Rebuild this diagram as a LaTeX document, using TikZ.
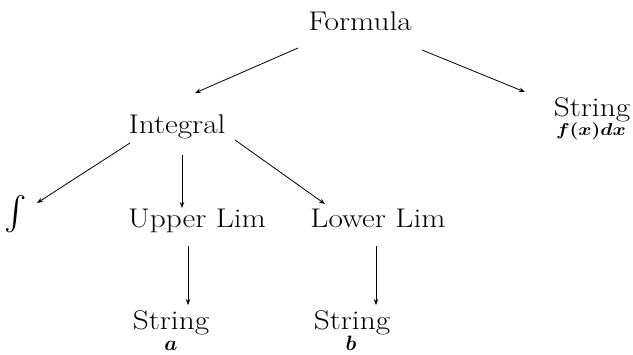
\documentclass[tikz,border=0pt]{standalone}
\usepackage{amsmath}
\usetikzlibrary{arrows.meta}
\newcommand{\wideT}[1]{\scalebox{1.16}[1]{#1}}
\begin{document}
\begin{tikzpicture}[x=1pt,y=-1pt,
  lbl/.style={inner sep=0pt,anchor=base,font=\fontsize{27}{32}\selectfont},
  sub/.style={inner sep=0pt,anchor=base,font=\fontsize{18}{22}\selectfont\boldmath},
  arr/.style={line width=0.8pt,-{Stealth[length=6pt,width=4.5pt]}}]
\useasboundingbox (0,0) rectangle (633,355);
\node[lbl] (formula) at (360,31) {\wideT{Formula}};
\node[lbl] (integral) at (177,134) {\wideT{Integral}};
\node[lbl] (strr) at (592,117) {\wideT{String}};
\node[sub] (fdx) at (591,136) {\wideT{$f(x)dx$}};
\node[lbl,font=\fontsize{27}{32}\selectfont\boldmath] (intsym) at (16,223) {\scalebox{1.35}{$\int$}};
\node[lbl] (upper) at (197,228) {\wideT{Upper Lim}};
\node[lbl] (lower) at (378,228) {\wideT{Lower Lim}};
\node[lbl] (stra) at (171,330) {\wideT{String}};
\node[sub,font=\fontsize{21}{24}\selectfont\boldmath] (a) at (171,351) {$a$};
\node[lbl] (strb) at (352,330) {\wideT{String}};
\node[sub,font=\fontsize{21}{24}\selectfont\boldmath] (b) at (351,351) {$b$};
\draw[arr] ([shift={(-62,17)}]formula.base) -- ([shift={(18,-41)}]integral.base);
\draw[arr] ([shift={(62,19)}]formula.base) -- ([shift={(-67,-25)}]strr.base);
\draw[arr] ([shift={(-47,9)}]integral.base) -- ([shift={(21,-20)}]intsym.base);
\draw[arr] ([shift={(5,21)}]integral.base) -- ([shift={(-15,-20)}]upper.base);
\draw[arr] ([shift={(58,6)}]integral.base) -- ([shift={(-53,-24)}]lower.base);
\draw[arr] ([shift={(-9,18)}]upper.base) -- ([shift={(17,-25)}]stra.base);
\draw[arr] ([shift={(-2,18)}]lower.base) -- ([shift={(24,-25)}]strb.base);
\end{tikzpicture}
\end{document}
